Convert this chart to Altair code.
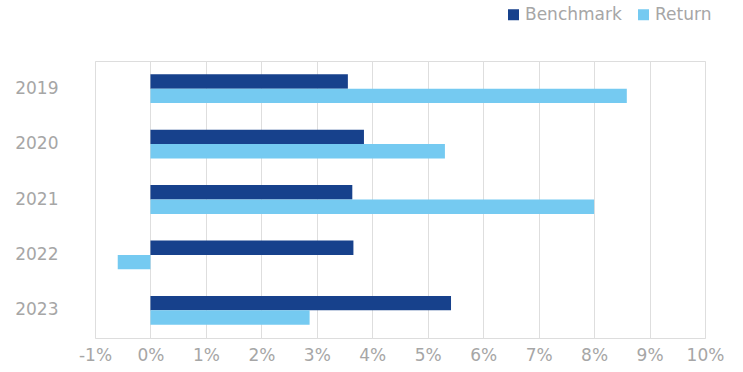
import altair as alt
import pandas as pd

years = ["2019", "2020", "2021", "2022", "2023"]
benchmark = [0.0356, 0.0385, 0.0364, 0.0366, 0.0542]
returns = [0.0859, 0.0531, 0.0800, -0.0059, 0.0287]
series = ["Benchmark", "Return"]
colors = ["#17418c", "#75caf1"]
x_ticks = [-0.01, 0.0, 0.01, 0.02, 0.03, 0.04, 0.05, 0.06, 0.07, 0.08, 0.09, 0.10]

rows = []
for y, b, r in zip(years, benchmark, returns):
    rows.append({"Year": y, "Series": "Benchmark", "Value": b})
    rows.append({"Year": y, "Series": "Return", "Value": r})
df = pd.DataFrame(rows)

FONT = "DejaVu Sans"
GRAY = "#a6a6a6"

chart = alt.Chart(df).mark_bar().encode(
    y=alt.Y("Year:N", sort=years, title=None,
            scale=alt.Scale(paddingInner=0.48, paddingOuter=0.24),
            axis=alt.Axis(ticks=False, domain=False, labelPadding=37,
                          labelFontSize=17, labelColor=GRAY, labelFont=FONT, grid=False)),
    yOffset=alt.YOffset("Series:N", sort=series),
    x=alt.X("Value:Q", title=None,
            scale=alt.Scale(domain=[-0.01, 0.10], nice=False, zero=False),
            axis=alt.Axis(values=x_ticks, format=".0%", ticks=False, domain=False,
                          labelExpr="replace(datum.label, '\u2212', '-')",
                          labelFlush=False, labelOverlap=False,
                          labelPadding=9, labelFontSize=17, labelColor=GRAY,
                          labelFont=FONT, gridColor="#dedede", gridWidth=1)),
    color=alt.Color("Series:N", sort=series,
                    scale=alt.Scale(domain=series, range=colors),
                    legend=alt.Legend(title=None, orient="none", direction="horizontal",
                                      legendX=410, legendY=-55, padding=0,
                                      symbolType="square",
                                      symbolSize=121, symbolStrokeWidth=0,
                                      labelFontSize=17, labelColor=GRAY, labelFont=FONT,
                                      columnPadding=13, labelOffset=3)),
).properties(
    width=610, height=277,
    autosize=alt.AutoSizeParams(type="none"),
    padding={"left": 95, "top": 61, "right": 38, "bottom": 34},
).configure_view(stroke="#d9d9d9", strokeWidth=1).configure(background="white")

chart.save("out.html", embed_options={"renderer": "svg", "actions": False})
